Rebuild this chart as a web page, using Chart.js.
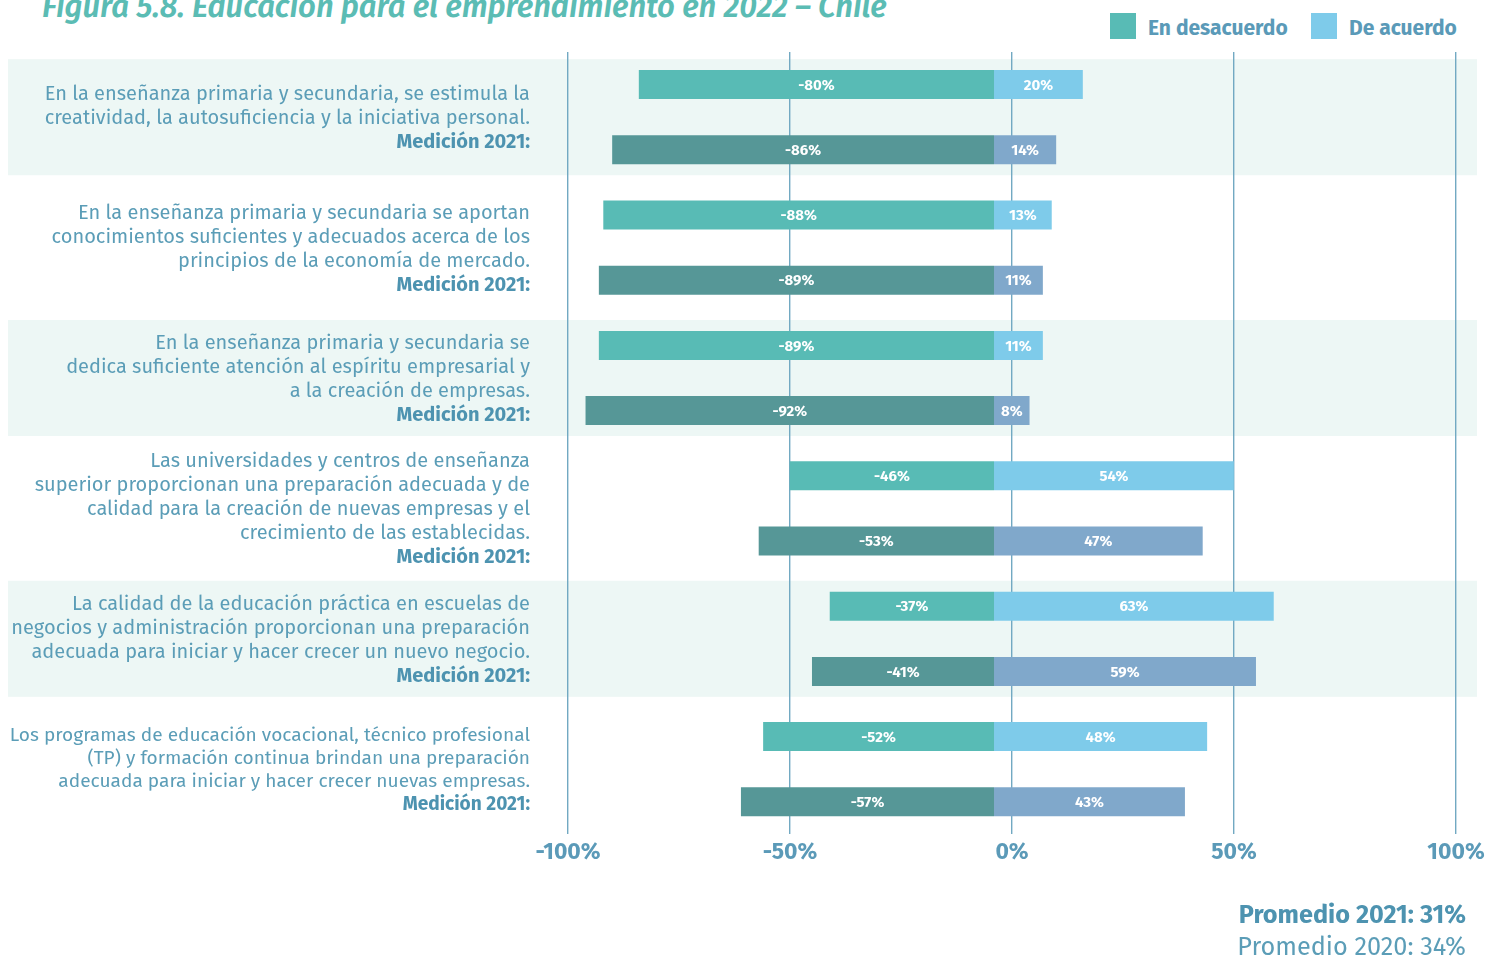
<!DOCTYPE html>
<html lang="es">
<head>
<meta charset="utf-8">
<title>Figura 5.8. Educación para el emprendimiento en 2022 – Chile</title>
<script src="https://cdn.jsdelivr.net/npm/chart.js@4.4.1/dist/chart.umd.min.js"></script>
<style>
  html, body { margin: 0; padding: 0; background: #fff; }
  body { width: 1502px; height: 957px; position: relative; overflow: hidden;
         font-family: 'Fira Sans', Lato, 'Noto Sans', sans-serif; }
  canvas { position: absolute; left: 0; top: 0; }
  .title { position: absolute; left: 42px; top: -12px; font-size: 31px; font-style: italic;
           font-weight: 600; color: #5bbcb4; white-space: nowrap; }
  .legend { position: absolute; top: 13px; height: 26px; display: flex; align-items: center;
            font-weight: 700; font-size: 21px; color: #5a9ab8; white-space: nowrap; }
  .legend span { padding-top: 3px; }
  .sw { width: 26px; height: 26px; margin-right: 12px; }
  .cat { position: absolute; right: 972px; text-align: right; white-space: nowrap;
         font-size: 20px; line-height: 24px; color: #5b9db7; }
  .cat.small { font-size: 19.1px; line-height: 23px; }
  .cat b { color: #4d93b0; }
  .avg { position: absolute; right: 36px; text-align: right; white-space: nowrap;
         font-size: 25.3px; line-height: 32px; color: #5b9db7; }
</style>
</head>
<body>
<div class="title">Figura 5.8. Educación para el emprendimiento en 2022 – Chile</div>
<div class="legend" style="left:1110px"><div class="sw" style="background:#58bbb5"></div><span>En desacuerdo</span></div>
<div class="legend" style="left:1311px"><div class="sw" style="background:#7ecbea"></div><span>De acuerdo</span></div>
<canvas id="chart" width="1502" height="957"></canvas>
<div id="labels"></div>
<div class="avg" style="top:899px"><b style="color:#4d93b0">Promedio 2021: 31%</b></div>
<div class="avg" style="top:931px">Promedio 2020: 34%</div>

<script>
// categories (one entry per statement, split in lines as in the figure)
var categories = [
    ['En la enseñanza primaria y secundaria, se estimula la',
     'creatividad, la autosuficiencia y la iniciativa personal.'],
    ['En la enseñanza primaria y secundaria se aportan',
     'conocimientos suficientes y adecuados acerca de los',
     'principios de la economía de mercado.'],
    ['En la enseñanza primaria y secundaria se',
     'dedica suficiente atención al espíritu empresarial y',
     'a la creación de empresas.'],
    ['Las universidades y centros de enseñanza',
     'superior proporcionan una preparación adecuada y de',
     'calidad para la creación de nuevas empresas y el',
     'crecimiento de las establecidas.'],
    ['La calidad de la educación práctica en escuelas de',
     'negocios y administración proporcionan una preparación',
     'adecuada para iniciar y hacer crecer un nuevo negocio.'],
    ['Los programas de educación vocacional, técnico profesional',
     '(TP) y formación continua brindan una preparación',
     'adecuada para iniciar y hacer crecer nuevas empresas.']
];
var medicionLabel = 'Medición 2021:';

var desacuerdo2022 = [-80, -88, -89, -46, -37, -52];
var acuerdo2022    = [20, 13, 11, 54, 63, 48];
var desacuerdo2021 = [-86, -89, -92, -53, -41, -57];
var acuerdo2021    = [14, 11, 8, 47, 59, 43];

var tickValues = [-100, -50, 0, 50, 100];

var fontFamily = "'Fira Sans', Lato, 'Noto Sans', sans-serif";

// build the html labels on the left
var labelBox = document.getElementById('labels');
var labelDivs = categories.map(function (lines, i) {
    var d = document.createElement('div');
    d.className = i === categories.length - 1 ? 'cat small' : 'cat';
    d.innerHTML = lines.join('<br>') + '<br><b>' + medicionLabel + '</b>';
    labelBox.appendChild(d);
    return d;
});

// light bands behind every other statement
var bandsPlugin = {
    id: 'bands',
    beforeDraw: function (chart) {
        var ctx = chart.ctx;
        var y = chart.scales.y;
        var h = (y.getPixelForValue(1) - y.getPixelForValue(0)) * 0.89;
        ctx.save();
        ctx.fillStyle = '#edf7f5';
        for (var i = 0; i < categories.length; i += 2) {
            var c = y.getPixelForValue(i);
            ctx.fillRect(8, c - h / 2, 1469, h);
        }
        ctx.restore();
    }
};

// percentages written inside the bars
var valueLabels = {
    id: 'valueLabels',
    afterDatasetsDraw: function (chart) {
        var ctx = chart.ctx;
        ctx.save();
        ctx.fillStyle = '#ffffff';
        ctx.font = 'bold 15px ' + fontFamily;
        ctx.textAlign = 'center';
        ctx.textBaseline = 'middle';
        chart.data.datasets.forEach(function (ds, di) {
            chart.getDatasetMeta(di).data.forEach(function (bar, i) {
                ctx.fillText(ds.data[i] + '%', (bar.x + bar.base) / 2, bar.y + 1);
            });
        });
        ctx.restore();
    }
};

// keep the html labels centred on their category
var placeLabels = {
    id: 'placeLabels',
    afterDraw: function (chart) {
        var y = chart.scales.y;
        labelDivs.forEach(function (d, i) {
            d.style.top = (y.getPixelForValue(i) - d.offsetHeight / 2) + 'px';
        });
    }
};

var ctx = document.getElementById('chart').getContext('2d');
var chart = new Chart(ctx, {
    type: 'bar',
    data: {
        labels: categories.map(function (c) { return c.join(' '); }),
        datasets: [
            { label: 'En desacuerdo', data: desacuerdo2022, backgroundColor: '#58bbb5', stack: '2022' },
            { label: 'De acuerdo', data: acuerdo2022, backgroundColor: '#7ecbea', stack: '2022' },
            { label: 'En desacuerdo 2021', data: desacuerdo2021, backgroundColor: '#569797', stack: '2021' },
            { label: 'De acuerdo 2021', data: acuerdo2021, backgroundColor: '#80a8cb', stack: '2021' }
        ]
    },
    options: {
        indexAxis: 'y',
        responsive: false,
        animation: false,
        categoryPercentage: 1,
        barPercentage: 0.445,
        layout: { padding: { left: 568, right: 46, top: 52, bottom: 87 } },
        plugins: { legend: { display: false }, tooltip: { enabled: false } },
        scales: {
            // bars sit slightly left of the drawn 0% line, as in the original figure
            x: { stacked: true, display: false, min: -95.95, max: 104.05 },
            xg: {
                type: 'linear',
                position: 'bottom',
                min: -100,
                max: 100,
                afterBuildTicks: function (axis) {
                    axis.ticks = tickValues.map(function (v) { return { value: v }; });
                },
                grid: { color: '#72a9c2', lineWidth: 1.4, drawTicks: false },
                border: { display: false },
                ticks: {
                    padding: 4,
                    color: '#5b9ab8',
                    font: { family: fontFamily, size: 23, weight: 'bold' },
                    callback: function (v) { return v + '%'; }
                }
            },
            y: { stacked: true, display: false }
        }
    },
    plugins: [bandsPlugin, valueLabels, placeLabels]
});
</script>
</body>
</html>
